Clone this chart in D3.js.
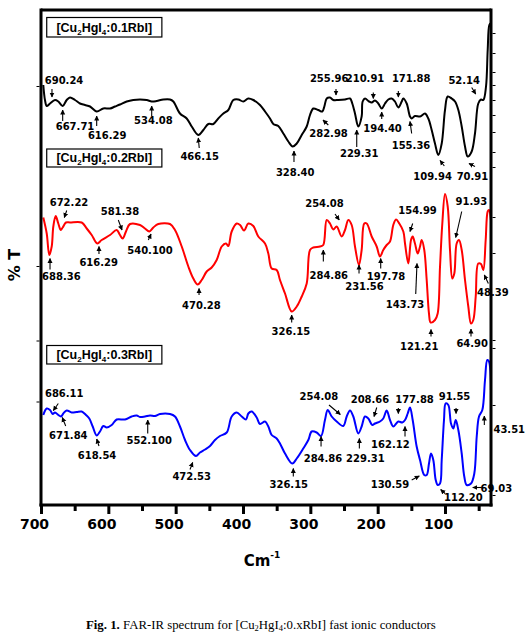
<!DOCTYPE html>
<html><head><meta charset="utf-8">
<script src="https://cdn.jsdelivr.net/npm/d3@7"></script>
<style>body{margin:0;background:#fff}</style>
</head><body><svg id="c" width="530" height="640"></svg>
<script>
// ---------- data ----------
const xTicksMajor = [700, 600, 500, 400, 300, 200, 100];
const xTicksMinor = [650, 550, 450, 350, 250, 150, 50];
const leftTicks = [83.8, 47.8, 32.9, 20.7];
const rightTicks = [94.4, 90.4, 86.6, 84, 81, 78, 74.6, 70.6, 67.6, 57.6, 50.4, 33, 31.4, 20, 2];

const sampleNames = ["0.1", "0.2", "0.3"];

// [wavenumber (cm-1), %T]
const spectrum01 = [
[696.6,84.0],[694.1,81.0],[691.5,79.8],[686.6,80.3],[679.2,81.0],[674.3,80.7],[667.8,79.8],[661.8,81.0],
[656.9,81.5],[649.5,81.0],[642.1,80.3],[634.7,80.0],[627.2,79.7],[617.3,78.7],[607.5,79.3],[597.5,79.3],
[590.1,79.7],[582.7,80.1],[572.7,80.7],[562.9,81.0],[553.0,81.1],[543.0,81.0],[535.6,80.7],[528.2,80.8],
[518.4,81.1],[508.4,81.1],[503.5,80.7],[493.6,78.3],[483.6,77.3],[476.2,75.7],[466.4,74.0],[458.9,75.0],
[451.5,76.2],[444.1,76.2],[436.7,77.3],[429.2,78.3],[421.8,79.0],[414.4,81.0],[407.0,81.1],[399.6,80.7],
[392.1,81.3],[384.7,81.0],[374.8,80.0],[367.3,78.7],[359.9,77.3],[355.0,76.2],[347.6,75.8],[340.1,74.3],
[332.7,72.7],[326.2,71.7],[320.2,72.3],[312.8,74.0],[305.4,75.7],[300.5,78.0],[295.6,79.3],[288.2,79.0],
[282.2,78.7],[279.2,79.7],[275.7,81.3],[270.8,81.5],[265.9,81.0],[258.5,81.0],[248.5,81.1],[241.1,81.3],
[237.7,80.3],[233.7,78.3],[228.8,75.7],[223.8,77.7],[222.3,80.7],[218.8,81.3],[212.9,80.7],[208.9,80.5],
[204.0,80.9],[199.1,80.3],[194.0,79.3],[189.1,80.3],[184.2,81.1],[179.2,81.3],[174.3,80.7],[169.4,79.5],
[164.3,80.7],[161.9,81.3],[156.9,80.3],[152.0,77.7],[149.5,77.3],[144.6,77.8],[137.1,77.7],[129.7,78.3],
[124.8,77.3],[119.8,75.0],[114.9,72.3],[109.9,70.0],[104.9,72.3],[100.0,79.0],[96.0,81.7],[90.1,81.3],
[85.1,80.7],[80.2,79.0],[75.2,75.7],[70.3,71.7],[66.3,69.7],[60.4,70.7],[55.5,74.3],[50.6,80.3],
[46.5,81.1],[43.1,81.0],[39.1,83.7],[36.6,91.0],[34.2,96.0],[32.4,96.3],[31.8,93.0]
];
const spectrum02 = [
[696.6,57.5],[691.5,54.3],[687.7,50.0],[684.1,51.7],[681.7,55.7],[678.2,57.8],[674.3,56.3],[670.7,55.0],
[667.8,55.5],[662.9,56.5],[656.9,56.5],[639.6,56.5],[632.1,55.3],[624.7,54.0],[616.4,52.3],[609.9,53.0],
[597.5,54.0],[587.6,55.0],[582.7,54.0],[578.7,53.3],[573.8,54.7],[567.8,56.2],[553.0,56.0],[545.6,55.3],
[539.2,54.7],[533.2,55.5],[525.8,56.2],[508.4,56.2],[501.0,55.0],[491.0,51.7],[481.2,47.7],[473.8,45.3],
[467.3,44.1],[461.3,45.0],[453.9,46.7],[446.5,47.5],[439.1,49.0],[431.6,51.7],[425.3,52.3],[421.8,51.8],
[416.8,54.7],[409.3,56.3],[404.4,56.0],[398.5,54.9],[392.1,56.3],[384.7,55.8],[377.3,53.7],[367.3,52.3],
[362.4,50.3],[357.4,47.3],[350.0,47.0],[345.1,45.0],[337.6,42.3],[327.7,38.7],[320.2,39.7],[312.8,41.7],
[305.4,44.3],[300.5,51.0],[295.6,51.5],[285.7,51.7],[280.8,52.0],[275.7,57.0],[270.8,56.3],[265.9,55.1],
[260.9,55.7],[253.5,53.7],[248.5,55.0],[243.6,57.0],[238.6,56.0],[233.7,51.7],[227.8,48.0],[223.8,51.0],
[219.9,56.3],[216.3,56.3],[208.9,53.7],[201.5,51.7],[196.6,49.7],[191.7,51.0],[186.6,52.0],[181.7,52.7],
[176.8,56.0],[172.8,57.1],[167.9,56.3],[161.9,54.7],[159.4,52.3],[154.5,48.3],[150.5,53.0],[148.0,53.7],
[144.6,52.3],[140.6,50.3],[137.1,51.7],[134.6,53.0],[130.8,51.0],[127.2,45.0],[123.8,38.3],[121.3,36.5],
[114.9,37.0],[110.9,38.3],[107.4,47.7],[104.0,56.3],[100.0,62.2],[96.0,59.7],[92.6,51.0],[89.2,45.3],
[86.2,46.3],[82.7,52.3],[79.2,53.0],[75.2,51.0],[70.3,45.0],[65.4,39.7],[61.4,36.3],[58.0,37.0],
[54.4,41.7],[50.6,48.3],[46.5,48.2],[43.1,47.0],[39.6,53.0],[36.6,58.7],[34.7,59.0],[31.8,57.0]
];
const spectrum03 = [
[696.6,18.0],[691.5,19.3],[686.6,19.0],[682.6,18.2],[679.2,18.5],[674.3,18.0],[670.3,17.7],[666.9,18.3],
[661.8,18.9],[654.4,18.5],[647.0,18.6],[639.6,18.7],[633.2,18.0],[628.3,17.3],[623.2,15.7],[617.3,13.9],
[612.4,14.7],[607.5,15.8],[602.4,15.5],[595.0,16.0],[587.6,17.1],[575.3,17.1],[565.3,17.7],[557.9,17.9],
[553.0,17.6],[545.6,17.7],[538.1,17.9],[530.7,17.8],[523.3,18.2],[508.4,18.2],[501.0,17.7],[493.6,15.7],
[486.1,13.0],[478.7,11.0],[469.8,9.8],[463.9,10.5],[456.4,11.1],[449.0,11.8],[441.6,13.0],[434.2,13.8],
[424.2,14.5],[416.8,17.7],[409.3,18.5],[401.9,17.7],[395.6,17.1],[392.1,18.3],[387.1,18.7],[379.7,17.5],
[374.8,16.2],[367.3,16.7],[362.4,15.7],[357.4,14.0],[350.0,13.3],[345.1,12.3],[337.6,10.3],[326.8,8.3],
[320.2,9.3],[310.5,11.3],[303.0,13.0],[298.0,14.7],[290.6,14.5],[284.2,13.8],[278.3,17.0],[274.2,19.0],
[268.3,17.7],[260.9,16.7],[251.1,15.8],[246.0,17.7],[241.1,18.9],[236.2,17.7],[228.8,14.3],[223.8,15.7],
[218.8,17.7],[213.9,17.3],[208.0,16.0],[204.0,16.3],[196.6,16.7],[191.7,17.3],[186.6,18.9],[181.7,17.0],
[176.8,15.7],[169.4,16.7],[163.5,16.5],[159.4,17.0],[155.4,18.3],[152.0,19.5],[148.0,17.0],[142.1,11.7],
[137.1,9.0],[130.8,6.0],[127.2,6.0],[123.8,8.3],[120.8,10.3],[117.4,9.0],[113.8,5.0],[110.9,4.0],
[107.4,4.3],[104.9,9.0],[101.5,17.0],[99.0,20.3],[95.1,20.0],[91.1,16.3],[87.7,15.3],[84.1,17.0],
[80.2,15.0],[75.2,10.3],[71.4,5.7],[67.8,4.0],[61.4,4.3],[56.5,6.3],[52.9,13.7],[49.5,17.7],
[44.6,19.0],[40.6,25.0],[37.2,29.0],[34.7,28.7],[31.8,23.0]
];

// peak labels: [text, text x (cm-1), text baseline (%T), arrow tail x, tail %T, arrow head x, head %T]
const peaks01 = [
["690.24",665.8,84.3,683.7,83.2,683.7,81.6],
["667.71",649.5,75.0,667.8,76.8,667.8,79.0],
["616.29",601.7,73.3,617.3,75.8,617.3,77.8],
["534.08",533.2,76.2,535.6,77.8,535.6,79.8],
["466.15",464.3,69.0,465.0,71.4,466.4,73.4],
["328.40",322.5,65.8,324.3,68.6,324.3,70.8],
["282.98",273.0,73.7,273.3,76.0,281.2,77.0],
["255.96",272.0,84.7,261.9,83.2,261.9,82.0],
["210.91",218.8,84.7,206.5,82.5,206.5,81.3],
["194.40",192.8,74.7,194.0,77.2,194.0,78.6],
["229.31",227.4,69.7,231.1,71.6,231.1,75.0],
["171.88",150.2,84.7,169.3,82.8,169.3,81.6],
["155.36",150.5,71.3,149.5,74.3,152.0,76.7],
["52.14",71.5,84.2,60.4,83.5,54.4,82.2],
["109.94",118.5,65.0,101.0,67.8,107.4,68.9],
["70.91",59.2,65.0,55.5,67.7,64.4,68.3]
];
const peaks02 = [
["672.22",658.4,59.8,661.8,58.9,665.4,57.5],
["688.36",669.8,45.0,686.6,47.1,686.6,49.3],
["581.38",582.7,58.1,585.2,57.0,579.7,55.0],
["616.29",614.3,47.8,613.9,50.2,613.9,51.7],
["540.100",538.1,50.3,540.6,53.0,536.6,54.2],
["470.28",461.9,39.3,465.3,42.0,465.3,43.3],
["326.15",329.0,34.0,327.7,36.5,327.7,38.0],
["284.86",272.6,45.3,280.7,48.7,280.7,51.0],
["254.08",279.0,59.7,263.4,58.2,257.0,57.0],
["231.56",219.6,43.0,227.7,46.3,227.7,48.0],
["197.78",187.6,45.0,195.5,47.3,195.5,49.3],
["154.99",140.8,58.3,148.0,56.3,152.0,54.7],
["143.73",159.4,39.5,143.5,42.2,141.6,48.3],
["121.21",138.3,31.1,120.8,33.7,120.8,35.1],
["91.93",60.9,60.0,75.2,58.7,84.1,53.5],
["64.90",59.6,31.7,61.4,33.7,61.4,35.2],
["48.39",29.0,41.8,35.6,44.3,41.6,46.0]
];
const peaks03 = [
["686.11",665.5,21.7,674.3,20.3,681.7,18.9],
["671.84",659.5,13.3,663.3,15.8,668.4,17.5],
["618.54",616.8,9.3,613.9,11.8,617.3,13.2],
["552.100",539.3,12.3,541.5,14.3,541.5,17.0],
["472.53",476.2,5.1,478.7,7.1,474.7,8.5],
["326.15",332.0,3.5,325.3,5.7,325.3,7.3],
["284.86",281.2,8.7,284.1,11.7,284.1,13.7],
["254.08",287.4,21.1,272.3,20.0,255.5,18.1],
["229.31",218.3,8.7,227.2,11.3,227.2,13.3],
["208.66",211.4,20.5,201.4,19.5,205.4,17.7],
["162.12",181.1,11.5,159.4,13.7,159.4,15.7],
["177.88",145.3,20.5,169.3,19.4,169.3,18.3],
["91.55",85.9,21.1,83.6,19.4,83.6,18.3],
["43.51",4.6,14.5,41.6,16.0,41.6,17.8],
["130.59",181.7,3.5,149.5,5.0,138.2,5.8],
["112.20",72.8,0.9,100.0,2.3,106.4,3.1],
["69.03",23.8,2.7,45.5,3.5,58.8,3.5]
];
// sample boxes: [left cm-1, right cm-1, top %T, bottom %T]
const boxes = [[691.5,520.5,97.5,93.6],[691.5,520.5,71.2,67.6],[691.5,520.5,31.9,28.2]];

// ---------- drawing ----------
const svg = d3.select("#c");
const x = d3.scaleLinear().domain([700, 31.7]).range([41, 491]);
const y = d3.scaleLinear().domain([0, 99]).range([505, 10]);

const colors = ["#000000", "#ff0000", "#0000ff"];
const spectra = [spectrum01, spectrum02, spectrum03];
const peaks = [peaks01, peaks02, peaks03];

svg.append("defs").append("marker")
  .attr("id", "ah").attr("viewBox", "0 0 10 10").attr("refX", 9).attr("refY", 5)
  .attr("markerWidth", 5).attr("markerHeight", 6).attr("orient", "auto")
  .attr("markerUnits", "userSpaceOnUse")
  .append("path").attr("d", "M0,0L10,5L0,10z").attr("fill", "#000");

const line = d3.line().x(d => x(d[0])).y(d => y(d[1])).curve(d3.curveCatmullRom.alpha(0.5));

spectra.forEach((s, i) => {
  svg.append("path").datum(s).attr("d", line)
    .attr("fill", "none").attr("stroke", colors[i]).attr("stroke-width", 2)
    .attr("stroke-linejoin", "round");
});

// boxes
boxes.forEach((b, i) => {
  const g = svg.append("g");
  g.append("rect").attr("x", x(b[0])).attr("y", y(b[2]))
    .attr("width", x(b[1]) - x(b[0])).attr("height", y(b[3]) - y(b[2]))
    .attr("fill", "#fff").attr("stroke", "#000").attr("stroke-width", 1.2);
  const t = g.append("text").attr("x", (x(b[0]) + x(b[1])) / 2).attr("y", y(b[3]) - 5.5)
    .attr("text-anchor", "middle").attr("font-family", "Liberation Sans, Arial, sans-serif")
    .attr("font-weight", "bold").attr("font-size", 12.5);
  t.append("tspan").text("[Cu");
  t.append("tspan").text("2").attr("font-size", 8).attr("dy", 3);
  t.append("tspan").text("HgI").attr("dy", -3);
  t.append("tspan").text("4").attr("font-size", 8).attr("dy", 3);
  t.append("tspan").text(":" + sampleNames[i] + "RbI]").attr("dy", -3);
});

// peak labels
peaks.forEach(list => {
  list.forEach(p => {
    svg.append("text").attr("x", x(p[1])).attr("y", y(p[2]))
      .attr("text-anchor", "middle").attr("font-family", "DejaVu Sans, sans-serif")
      .attr("font-weight", "bold").attr("font-size", 10).attr("fill", "#000").text(p[0]);
    svg.append("line").attr("x1", x(p[3])).attr("y1", y(p[4]))
      .attr("x2", x(p[5])).attr("y2", y(p[6]))
      .attr("stroke", "#000").attr("stroke-width", 1.1).attr("marker-end", "url(#ah)");
  });
});

// frame
const frame = svg.append("g").attr("fill", "none").attr("stroke", "#000").attr("stroke-width", 3);
frame.append("line").attr("x1", x(700)).attr("x2", x(31.7)).attr("y1", y(99)).attr("y2", y(99));
frame.append("line").attr("x1", x(31.7)).attr("x2", x(31.7)).attr("y1", y(99) - 1.5).attr("y2", y(0) + 1.5);
frame.append("line").attr("x1", x(700)).attr("x2", x(700)).attr("y1", y(99) - 1.5).attr("y2", y(0) + 1.5);

// bottom axis
const axMinor = svg.append("g").attr("transform", `translate(0,${y(0)})`)
  .call(d3.axisBottom(x).tickValues(xTicksMinor).tickSize(6).tickFormat(""));
const axMajor = svg.append("g").attr("transform", `translate(0,${y(0)})`)
  .call(d3.axisBottom(x).tickValues(xTicksMajor).tickSize(9).tickSizeOuter(0));
[axMinor, axMajor].forEach(a => {
  a.select(".domain").remove();
  a.selectAll(".tick line").attr("stroke-width", 3);
});
axMajor.selectAll(".tick text")
  .attr("font-family", "DejaVu Sans, sans-serif").attr("font-weight", "bold")
  .attr("font-size", 14).attr("y", 24).attr("dy", 0).attr("dx", -7).attr("fill", "#000");
svg.append("line").attr("x1", x(700) - 1.5).attr("x2", x(31.7) + 1.5)
  .attr("y1", y(0)).attr("y2", y(0)).attr("stroke", "#000").attr("stroke-width", 3);

// left / right minor ticks
const axL = svg.append("g").attr("transform", `translate(${x(700) - 1.5},0)`)
  .call(d3.axisLeft(y).tickValues(leftTicks).tickSize(3).tickFormat(""));
axL.select(".domain").remove();
const axR = svg.append("g").attr("transform", `translate(${x(31.7) + 1.5},0)`)
  .call(d3.axisRight(y).tickValues(rightTicks).tickSize(3).tickFormat(""));
axR.select(".domain").remove();

// axis titles
const xt = svg.append("text").attr("x", 262).attr("y", 566).attr("text-anchor", "middle")
  .attr("font-family", "DejaVu Sans, sans-serif").attr("font-weight", "bold").attr("font-size", 15);
xt.append("tspan").text("Cm");
xt.append("tspan").text("-1").attr("font-size", 9).attr("dy", -8);

svg.append("text").attr("transform", "translate(20,265) rotate(-90)").attr("text-anchor", "middle")
  .attr("font-family", "DejaVu Sans, sans-serif").attr("font-weight", "bold").attr("font-size", 16)
  .text("% T");

// caption
const cap = svg.append("text").attr("x", 86).attr("y", 629)
  .attr("font-family", "Liberation Serif, Times New Roman, serif").attr("font-size", 12.8).attr("fill", "#000");
cap.append("tspan").text("Fig. 1.").attr("font-weight", "bold");
cap.append("tspan").text(" FAR-IR spectrum for [Cu");
cap.append("tspan").text("2").attr("font-size", 8.5).attr("dy", 2);
cap.append("tspan").text("HgI").attr("dy", -2);
cap.append("tspan").text("4").attr("font-size", 8.5).attr("dy", 2);
cap.append("tspan").text(":0.xRbI]  fast ionic conductors").attr("dy", -2);
</script>
</body></html>
